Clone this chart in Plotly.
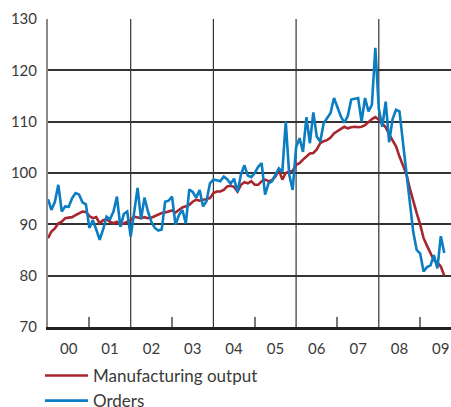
import plotly.graph_objects as go

START_YEAR = 2000
manufacturing_output = [
    87.3, 88.6, 89.2, 90.2, 90.5, 91.2, 91.3, 91.4, 91.8, 92.2, 92.5, 92.4,
    91.6, 91.2, 91.4, 90.2, 90.8, 91.0, 90.5, 90.2, 90.5, 89.9, 90.2, 90.4,
    90.8, 91.5, 91.4, 91.2, 91.4, 91.2, 91.3, 91.6, 91.8, 92.2, 92.3, 92.5,
    92.7, 92.3, 92.8, 93.3, 93.5, 93.8, 94.4, 94.8, 94.6, 94.8, 94.9, 95.1,
    96.1, 96.4, 96.4, 96.7, 97.4, 97.5, 97.3, 96.4, 97.7, 98.2, 98.0, 98.4,
    97.7, 97.7, 98.4, 98.7, 98.4, 98.6, 99.3, 100.6, 98.7, 100.0, 100.3, 100.4,
    101.6, 101.9, 102.6, 103.2, 103.8, 103.9, 104.6, 105.8, 106.2, 106.4, 106.9, 107.7,
    108.2, 108.6, 109.0, 108.7, 108.9, 109.0, 108.9, 109.0, 109.3, 110.0, 110.5, 110.9,
    110.4, 109.6, 108.9, 107.5, 106.4, 105.2, 103.2, 101.6, 99.8, 97.0, 94.3, 92.2,
    90.0, 87.3, 85.8, 84.3, 83.0, 82.5, 81.8, 80.0,
]
orders = [
    94.9, 92.8, 94.4, 97.7, 92.5, 93.5, 93.4, 95.1, 96.1, 95.8, 94.3, 93.9,
    89.3, 90.8, 89.0, 87.0, 89.0, 91.5, 91.0, 92.5, 95.4, 89.5, 92.0, 92.5,
    87.6, 92.5, 97.1, 91.0, 95.2, 92.5, 90.5, 89.3, 88.8, 89.0, 94.4, 94.6,
    95.4, 89.9, 91.8, 92.8, 90.2, 96.8, 96.3, 95.2, 96.7, 93.5, 94.5, 98.0,
    98.7, 98.6, 98.4, 99.3, 98.8, 97.9, 98.9, 96.3, 99.7, 101.5, 99.5, 99.2,
    100.0, 101.2, 101.9, 95.8, 98.0, 98.4, 99.8, 100.9, 100.2, 110.0, 99.7, 96.7,
    105.0, 106.8, 104.1, 110.9, 105.8, 111.8, 107.1, 106.1, 109.7, 110.7, 111.7, 114.6,
    112.6, 111.0, 109.8, 111.1, 114.3, 114.4, 114.6, 110.0, 114.6, 112.0, 113.3, 124.4,
    112.5, 109.0, 113.9, 106.0, 110.5, 112.3, 112.0, 106.0, 100.4, 94.6, 88.5, 85.0,
    84.3, 80.8, 81.7, 82.0, 84.0, 81.4, 87.7, 84.4,
]
year_labels = ["00", "01", "02", "03", "04", "05", "06", "07", "08", "09"]
grid_years = [2002, 2004, 2006, 2008]
tick_years = [2001, 2003, 2005, 2007, 2009]
y_ticks = [70, 80, 90, 100, 110, 120, 130]

x_vals = [START_YEAR + i / 12 for i in range(len(orders))]
label_pos = [START_YEAR + k + 0.5 for k in range(len(year_labels))]

RED = "#A8262E"
BLUE = "#0A7DC3"
TXT = "#3a3a3a"

fig = go.Figure()
fig.add_trace(go.Scatter(x=x_vals, y=manufacturing_output, mode="lines",
                         name="Manufacturing output",
                         line=dict(color=RED, width=2.6)))
fig.add_trace(go.Scatter(x=x_vals, y=orders, mode="lines", name="Orders",
                         line=dict(color=BLUE, width=2.6)))
for gy in grid_years:
    fig.add_shape(type="line", xref="x", yref="paper", x0=gy, x1=gy, y0=0, y1=1,
                  line=dict(color="#333333", width=1.2), layer="below")

fig.update_layout(
    width=451, height=407,
    margin=dict(l=48, r=0, t=19, b=80, autoexpand=False),
    paper_bgcolor="white", plot_bgcolor="white",
    font=dict(family="Lato", size=15, color=TXT),
    showlegend=True,
    legend=dict(x=-0.0199, y=-0.1006, xanchor="left", yanchor="top",
                font=dict(family="Lato", size=17, color=TXT),
                itemwidth=43, tracegroupgap=0, bgcolor="rgba(0,0,0,0)"),
    xaxis=dict(range=[2000, 2000 + 403 / 41.35], tickvals=label_pos,
               ticktext=year_labels, ticks="", showgrid=False, zeroline=False,
               showline=True, linecolor="#222222", linewidth=2.5,
               ticklabelstandoff=6, automargin=False,
               minor=dict(tickvals=tick_years, ticks="inside", ticklen=10,
                          tickwidth=1.5, tickcolor="#777777", showgrid=False)),
    yaxis=dict(range=[70, 130], tickvals=y_ticks, ticks="", showgrid=True,
               gridcolor="#333333", gridwidth=1.5, zeroline=False,
               showline=True, linecolor="#8a8a8a", linewidth=2,
               ticklabelstandoff=6, automargin=False),
)
fig.write_html("out.html",
               config={"displayModeBar": False},
               post_script="document.body.style.margin='0';"
                           "document.body.style.overflow='hidden';")
